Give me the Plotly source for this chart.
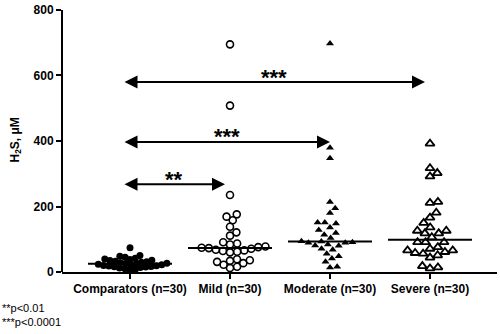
import numpy as np
import plotly.graph_objects as go

# H2S concentration (µM) per group
groups = ["Comparators (n=30)", "Mild (n=30)", "Moderate (n=30)", "Severe (n=30)"]
comparators = [74, 50, 48, 45, 42, 40, 38, 36, 35, 33, 31, 30, 28, 27, 26,
               25, 24, 22, 21, 20, 19, 18, 17, 16, 15, 14, 12, 10, 8, 5]
mild = [695, 508, 235, 176, 169, 158, 138, 121, 111, 91, 87, 84, 78, 76, 74,
        73, 71, 68, 66, 64, 62, 60, 39, 36, 34, 31, 27, 22, 16, 12]
moderate = [698, 379, 347, 214, 195, 180, 151, 151, 148, 136, 128, 119, 114, 104, 94,
            93, 91, 89, 89, 84, 81, 80, 71, 68, 56, 48, 41, 31, 16, 14]
severe = [392, 317, 302, 292, 214, 211, 181, 166, 150, 136, 126, 126, 118, 118, 106,
          91, 91, 91, 76, 71, 66, 66, 61, 58, 56, 51, 44, 18, 14, 11]

# significance comparisons: (from group, to group, bracket height, label)
comparisons = [(0, 1, 268, "**"), (0, 2, 397, "***"), (0, 3, 580, "***")]
yticks = [0, 200, 400, 600, 800]

W, H = 500, 334
M = dict(l=62, r=3, t=5, b=62)
XR = [-0.68, 3.67]
YR = [0, 803]
PLOT_W = W - M["l"] - M["r"]
PLOT_H = H - M["t"] - M["b"]
PX = PLOT_W / (XR[1] - XR[0])   # px per category unit
PY = PLOT_H / (YR[1] - YR[0])   # px per µM


def swarm(vals, d):
    """Beeswarm offsets (category units) so markers of diameter d px don't overlap."""
    vals = np.asarray(vals, float)
    order = np.argsort(vals, kind="stable")
    placed = []
    offs = np.zeros(len(vals))
    for i in order:
        y = vals[i] * PY
        cands = [0.0]
        for px, py in placed:
            dy = y - py
            if abs(dy) < d:
                dx = np.sqrt(d * d - dy * dy)
                cands += [px + dx, px - dx]
        cands.sort(key=lambda c: (abs(c), -c))
        chosen = cands[-1]
        for c in cands:
            if all((c - px) ** 2 + (y - py) ** 2 >= d * d - 1e-6 for px, py in placed):
                chosen = c
                break
        placed.append((chosen, y))
        offs[i] = chosen
    return offs / PX


series = [
    (comparators, dict(symbol="circle", size=7, color="black",
                       line=dict(color="black", width=0)), 5.4),
    (mild, dict(symbol="circle-open", size=7, color="black",
                line=dict(color="black", width=1.6)), 7.2),
    (moderate, dict(symbol="triangle-up", size=7, color="black",
                    line=dict(color="black", width=0)), 7.2),
    (severe, dict(symbol="triangle-up-open", size=8, color="black",
                  line=dict(color="black", width=1.8)), 8.0),
]

fig = go.Figure()
for gi, (vals, marker, d) in enumerate(series):
    xs = gi + swarm(vals, d)
    fig.add_trace(go.Scatter(x=xs, y=vals, mode="markers", marker=marker,
                             showlegend=False, hoverinfo="skip"))

# median lines
for gi, (vals, _, _) in enumerate(series):
    med = float(np.median(vals))
    fig.add_trace(go.Scatter(x=[gi - 0.42, gi + 0.42], y=[med, med], mode="lines",
                             line=dict(color="black", width=2),
                             showlegend=False, hoverinfo="skip"))

# double-headed significance arrows
for a, b, yv, lab in comparisons:
    x0 = a - 0.07
    x1 = b if b == 2 else b - 0.05
    fig.add_annotation(x=x1, y=yv, ax=x0, ay=yv, xref="x", yref="y",
                       axref="x", ayref="y", text="", showarrow=True,
                       arrowhead=2, startarrowhead=2, arrowside="end+start",
                       arrowsize=1.3, startarrowsize=1.3, arrowwidth=2,
                       arrowcolor="black")
    fig.add_annotation(x=(x0 + x1) / 2, y=yv, yshift=5, text=lab, showarrow=False,
                       xref="x", yref="y", yanchor="middle",
                       font=dict(family="Liberation Sans, Arial", size=22,
                                 color="black", weight="bold"))

fig.add_annotation(x=-(M["l"] - 15) / PLOT_W, y=0.5,
                   xref="paper", yref="paper", textangle=-90, showarrow=False,
                   text="H<sub>2</sub>S, μM", xanchor="center", yanchor="middle",
                   font=dict(family="Liberation Sans, Arial", size=12,
                             color="black", weight="bold"))

# footnote in the bottom-left corner of the figure
fig.add_annotation(x=-M["l"] / PLOT_W, y=-(316 - (M["t"] + PLOT_H)) / PLOT_H,
                   xref="paper", yref="paper",
                   text="**p<0.01<br>***p<0.0001", showarrow=False, align="left",
                   xanchor="left", yanchor="middle",
                   font=dict(family="Liberation Sans, Arial", size=11, color="black"))

fig.update_layout(
    width=W, height=H, margin=M,
    paper_bgcolor="white", plot_bgcolor="white",
    font=dict(family="Liberation Sans, Arial", color="black"),
)
fig.update_xaxes(range=XR, tickvals=list(range(len(groups))), ticktext=groups,
                 showgrid=False, zeroline=False, showline=True, linecolor="black",
                 linewidth=2, ticks="outside", ticklen=5, tickwidth=2,
                 tickcolor="black",
                 tickfont=dict(size=12, color="black", weight="bold"))
fig.update_yaxes(range=YR, tickvals=yticks, showgrid=False, zeroline=False,
                 showline=False, ticks="outside", ticklabeloverflow="allow",
                 ticklen=5, tickwidth=2, tickcolor="black",
                 tickfont=dict(size=12, color="black", weight="bold"))

# y axis line runs only from 0 to 800
fig.add_shape(type="line", xref="paper", yref="y", x0=0, x1=0, y0=0, y1=800,
              line=dict(color="black", width=2))

fig.write_html("out.html")
